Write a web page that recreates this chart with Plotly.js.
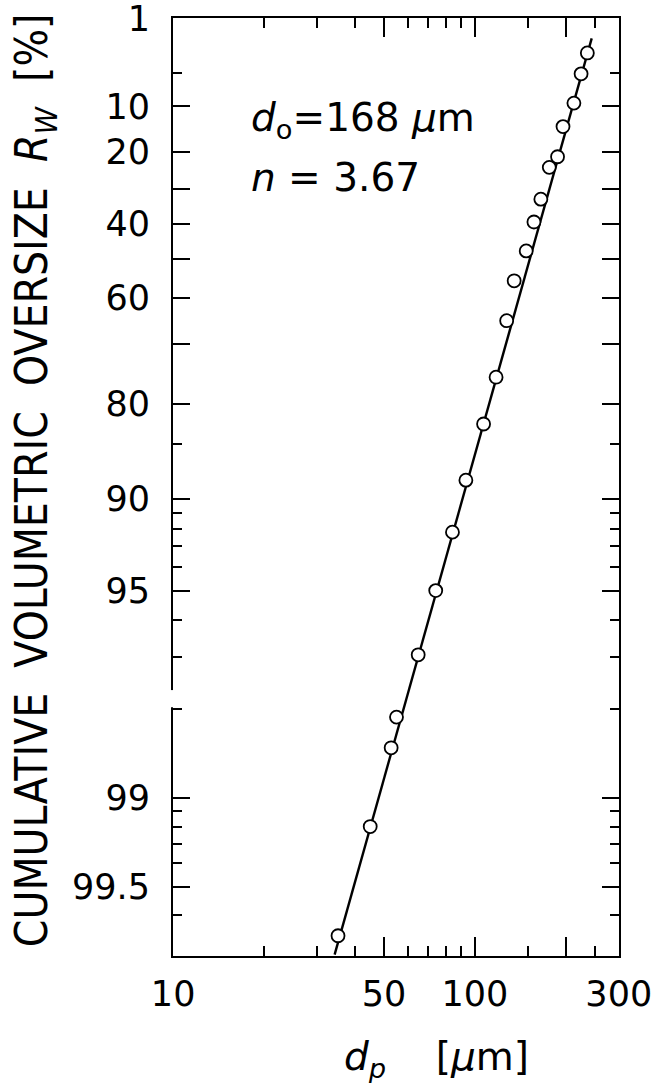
<!DOCTYPE html>
<html><head><meta charset="utf-8">
<script src="https://cdn.plot.ly/plotly-3.0.1.min.js"></script>
<style>html,body{margin:0;padding:0;background:#fff;}#chart{width:661px;height:1083px;}</style>
</head><body><div id="chart"></div>
<script>
// Rosin-Rammler parameters (from the chart text)
const d0 = 168;
const nExp = 3.67;
// measured points: particle size [um] and cumulative oversize [%]
const particleSize = [236, 225, 213, 196, 188, 176.5, 165.5, 157, 148, 135, 127.5, 117.6, 106.9, 93.4, 84.3, 74.2, 64.9, 55.0, 52.8, 45.0, 35.2];
const oversize = [3.0, 5.1, 9.4, 14.0, 21.2, 24.0, 32.9, 39.5, 47.7, 55.7, 65.2, 76.0, 82.7, 88.5, 92.2, 95.0, 96.95, 98.12, 98.52, 99.20, 99.66];
// fitted line extent in particle size
const fitSizeRange = [34.3, 244];
// axis ticks
const yMajorR = [1, 10, 20, 30, 40, 50, 60, 70, 80, 90, 95, 99, 99.5];
const yMajorText = ['1', '10', '20', '', '40', '', '60', '', '80', '90', '95', '99', '99.5'];
const yMinorR = [5, 85, 91, 92, 93, 94, 96, 97, 98, 99.1, 99.2, 99.3, 99.4, 99.6];
const xMajor = [10, 50, 100, 200, 300];
const xMajorText = ['10', '50', '100', '', '300'];
const xMinor = [20, 30, 40, 60, 70, 80, 90, 150, 250];
const yRangeR = [99.71, 0.99];
const xRange = [9.99, 300.5];
const yGapR = [97.68, 97.97];

// Rosin-Rammler ordinate: log10(ln(100/R))
const rr = R => Math.log10(Math.log(100 / R));
const fitY = d => nExp * Math.log10(d / d0);

const FONT = 'DejaVu Sans, Liberation Sans, sans-serif';

const traces = [
  {
    x: fitSizeRange, y: fitSizeRange.map(fitY), type: 'scatter', mode: 'lines',
    line: {color: '#000', width: 2.4}, hoverinfo: 'skip', showlegend: false
  },
  {
    x: particleSize, y: oversize.map(rr), type: 'scatter', mode: 'markers',
    marker: {symbol: 'circle', size: 13, color: '#fff', line: {color: '#000', width: 1.8}},
    showlegend: false
  }
];

const layout = {
  width: 661, height: 1083,
  margin: {l: 173, r: 42, t: 18, b: 127},
  paper_bgcolor: '#fff', plot_bgcolor: '#fff',
  font: {family: FONT, color: '#000', size: 35},
  showlegend: false,
  xaxis: {
    type: 'log', range: xRange.map(Math.log10),
    showgrid: false, zeroline: false,
    showline: true, linecolor: '#000', linewidth: 2, mirror: 'ticks',
    ticks: 'inside', ticklen: 19, tickwidth: 2, tickcolor: '#000',
    tickmode: 'array', tickvals: xMajor, ticktext: xMajorText,
    ticklabelstandoff: 6, ticklabeloverflow: 'allow',
    tickfont: {family: FONT, size: 35, color: '#000'},
    minor: {tickmode: 'array', tickvals: xMinor, ticks: 'inside', ticklen: 10, tickwidth: 2, tickcolor: '#000', showgrid: false}
  },
  yaxis: {
    range: yRangeR.map(rr),
    showgrid: false, zeroline: false,
    showline: true, linecolor: '#000', linewidth: 2, mirror: 'ticks',
    ticks: 'inside', ticklen: 17, tickwidth: 2, tickcolor: '#000',
    tickmode: 'array', tickvals: yMajorR.map(rr), ticktext: yMajorText,
    ticklabelstandoff: 14, ticklabeloverflow: 'allow',
    tickfont: {family: FONT, size: 35, color: '#000'},
    minor: {tickmode: 'array', tickvals: yMinorR.map(rr), ticks: 'inside', ticklen: 9, tickwidth: 2, tickcolor: '#000', showgrid: false}
  },
  shapes: [
    {type: 'rect', layer: 'above', xref: 'paper', yref: 'y', x0: -0.012, x1: 0.006,
     y0: rr(yGapR[0]), y1: rr(yGapR[1]), fillcolor: '#fff', line: {width: 0}}
  ],
  annotations: [
    {xref: 'paper', yref: 'paper', x: -0.31, y: 0.507, xanchor: 'center', yanchor: 'middle',
     textangle: -90, showarrow: false,
     text: 'CUMULATIVE  VOLUMETRIC  OVERSIZE  <i>R</i><sub><i>W</i></sub>  [%]',
     font: {family: 'Liberation Sans Narrow, DejaVu Sans Condensed, Liberation Sans, sans-serif', size: 44, color: '#000'}},
    {xref: 'paper', yref: 'paper', x: 0.59, y: -0.11, xanchor: 'center', yanchor: 'middle',
     showarrow: false, text: '<i>d</i><sub><i>p</i></sub>    [<i>μ</i>m]',
     font: {family: FONT, size: 39, color: '#000'}},
    {xref: 'paper', yref: 'paper', x: 0.17, y: 0.891, xanchor: 'left', yanchor: 'middle',
     showarrow: false, text: '<i>d</i><sub>o</sub>=168 <i>μ</i>m',
     font: {family: FONT, size: 39, color: '#000'}},
    {xref: 'paper', yref: 'paper', x: 0.17, y: 0.830, xanchor: 'left', yanchor: 'middle',
     showarrow: false, text: '<i>n</i> = 3.67',
     font: {family: FONT, size: 39, color: '#000'}}
  ]
};

Plotly.newPlot('chart', traces, layout, {staticPlot: true, displayModeBar: false});
</script>
</body></html>
